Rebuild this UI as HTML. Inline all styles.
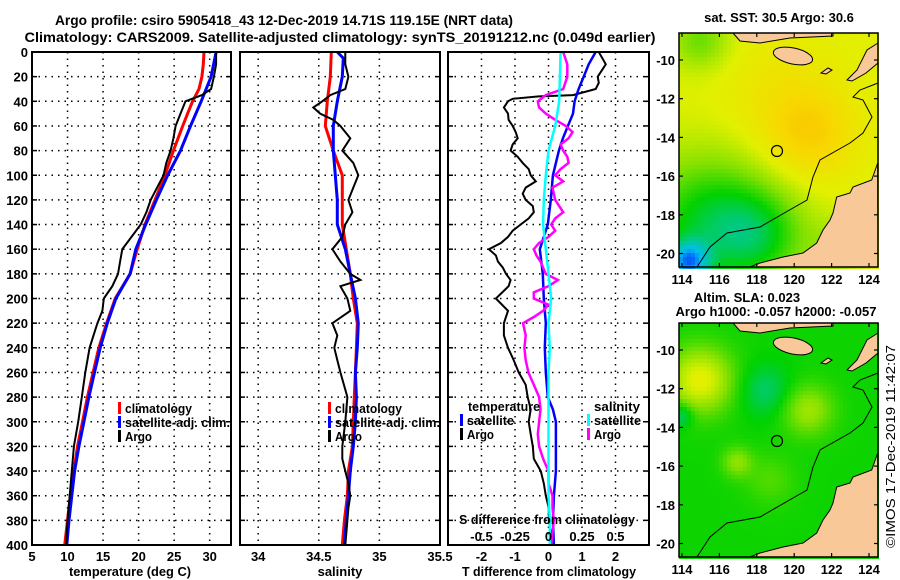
<!DOCTYPE html>
<html><head><meta charset="utf-8">
<style>
html,body{margin:0;padding:0;background:#fff;}
svg{display:block;font-family:"Liberation Sans",Arial,sans-serif;font-weight:bold;}
</style></head>
<body>
<svg id="fig" width="900" height="580" viewBox="0 0 900 580" xmlns="http://www.w3.org/2000/svg">
<text x="284" y="25" font-size="14" textLength="458" lengthAdjust="spacingAndGlyphs" text-anchor="middle">Argo profile: csiro 5905418_43 12-Dec-2019 14.71S 119.15E (NRT data)</text>
<text x="340" y="42" font-size="14" textLength="631" lengthAdjust="spacingAndGlyphs" text-anchor="middle">Climatology: CARS2009. Satellite-adjusted climatology: synTS_20191212.nc (0.049d earlier)</text>
<g id="panels"></g>
<g id="maps"></g>
<text transform="translate(895,548) rotate(-90)" font-size="13" font-weight="normal" textLength="203" lengthAdjust="spacingAndGlyphs">©IMOS 17-Dec-2019 11:42:07</text>
</svg>
<script>
// ---------- DATA ----------
const tClimDepth=[0,10,20,30,40,50,60,80,100,120,140,160,180,200,220,240,260,280,300,320,340,360,380,400];
const tClimVal=[29.2,29.1,28.9,28.5,27.6,26.9,26.2,24.9,23.7,22.3,20.9,19.8,18.8,16.7,15.5,14.4,13.6,12.8,12.1,11.4,10.9,10.4,10.0,9.6];
const tSatDepth=[0,20,40,60,80,100,120,140,160,180,200,220,240,260,280,300,320,340,360,380,400];
const tSatVal=[30.9,30.2,28.8,27.3,25.9,24.1,22.5,21.0,19.6,18.8,16.8,15.6,14.6,13.8,13.0,12.3,11.6,11.0,10.6,10.2,9.9];
const tArgoDepth=[0,10,20,30,35,40,50,60,70,80,90,100,110,120,130,140,150,160,170,180,190,200,210,220,240,260,280,300,320,340,360,380,400];
const tArgoVal=[30.9,30.9,30.6,30.2,28.9,26.6,25.9,25.2,24.9,24.5,23.9,23.5,22.6,21.7,21.1,20.3,19.0,17.7,17.4,17.1,16.3,15.1,14.9,14.2,13.1,12.5,12.0,11.5,10.9,10.6,10.3,10.0,9.8];
const sClimDepth=[0,20,40,60,80,100,120,140,160,180,200,220,240,260,280,300,320,340,360,380,400];
const sClimVal=[34.603,34.595,34.570,34.554,34.620,34.694,34.694,34.694,34.727,34.760,34.785,34.818,34.810,34.802,34.793,34.785,34.777,34.744,34.736,34.711,34.694];
const sSatDepth=[0,5,20,40,60,80,100,120,140,160,180,200,220,240,260,280,300,320,340,360,380,400];
const sSatVal=[34.653,34.702,34.694,34.653,34.620,34.620,34.636,34.653,34.653,34.719,34.760,34.802,34.826,34.818,34.802,34.810,34.802,34.785,34.760,34.744,34.727,34.711];
const sArgoDepth=[0,10,20,30,35,40,45,50,55,60,70,80,90,100,110,120,130,140,150,160,170,180,185,190,200,210,220,230,240,250,260,280,300,320,330,340,350,360,370,380,400];
const sArgoVal=[34.719,34.719,34.744,34.719,34.595,34.529,34.455,34.512,34.620,34.678,34.760,34.694,34.785,34.826,34.785,34.744,34.777,34.719,34.694,34.612,34.678,34.760,34.843,34.678,34.736,34.760,34.612,34.653,34.628,34.653,34.678,34.736,34.719,34.694,34.694,34.719,34.744,34.760,34.744,34.736,34.719];
const dTSatDepth=[0,10,20,30,40,50,60,70,80,90,100,120,140,150,160,180,200,220,240,260,280,290,300,320,340,360,380,400];
const dTSatVal=[1.41,1.20,1.05,0.90,0.78,0.73,0.58,0.43,0.31,0.22,0.13,0.07,-0.02,-0.14,-0.26,-0.17,-0.14,-0.08,-0.11,-0.08,-0.02,0.13,0.22,0.22,0.22,0.16,0.13,0.16];
const dTArgoDepth=[0,10,20,25,30,35,36,38,40,45,50,55,60,65,70,75,80,85,90,95,100,105,110,115,120,125,130,135,140,145,150,155,160,165,170,175,180,185,190,200,210,220,230,240,250,260,270,280,290,300,310,320,330,340,350,360,370,380,390,400];
const dTArgoVal=[1.50,1.71,1.47,1.50,1.41,0.73,-0.29,-1.07,-1.21,-1.33,-1.21,-1.19,-1.07,-0.98,-0.92,-1.07,-1.13,-0.92,-0.77,-0.59,-0.53,-0.38,-0.68,-0.77,-0.68,-0.47,-0.44,-0.59,-0.83,-1.07,-1.21,-1.42,-1.78,-1.57,-1.51,-1.36,-1.27,-1.13,-1.19,-1.57,-1.21,-1.33,-1.33,-1.21,-1.04,-0.89,-0.68,-0.62,-0.53,-0.59,-0.53,-0.47,-0.44,-0.23,-0.14,-0.08,0.01,0.01,0.07,0.07];
const dSSatDepth=[0,20,40,60,80,100,120,140,160,180,200,220,240,260,280,300,320,340,360,380,400];
const dSSatVal=[0.09,0.085,0.08,0.05,0.0,-0.02,-0.035,-0.04,-0.02,0.0,0.02,0.0,0.01,0.0,0.0,0.0,0.0,0.0,0.0,0.01,0.01];
const dSArgoDepth=[0,10,20,30,35,40,45,50,55,60,65,70,75,80,85,90,95,100,105,110,120,125,130,135,140,145,150,155,160,165,170,175,180,185,190,195,200,205,210,215,220,230,240,250,260,270,280,290,300,310,320,330,340,350,360,370,380,390,400];
const dSArgoVal=[0.11,0.14,0.14,0.11,-0.02,-0.08,-0.07,-0.02,0.05,0.13,0.18,0.15,0.09,0.11,0.14,0.15,0.09,0.05,0.11,0.03,0.05,0.08,0.11,0.05,0.02,0.05,0.0,-0.07,-0.11,-0.09,-0.06,-0.04,-0.02,0.07,0.0,-0.11,-0.11,0.0,-0.04,-0.11,-0.19,-0.17,-0.18,-0.17,-0.15,-0.11,-0.07,-0.06,-0.07,-0.08,-0.07,-0.04,0.0,0.0,0.03,0.03,0.04,0.03,0.02];
const depthTicks=[0,20,40,60,80,100,120,140,160,180,200,220,240,260,280,300,320,340,360,380,400];
const tempTicks=[5,10,15,20,25,30];
const salTicks=[34,34.5,35,35.5];
const salTickLabels=["34","34.5","35","35.5"];
const dTTicks=[-2,-1,0,1,2];
const dSTicks=[-0.5,-0.25,0,0.25,0.5];
const dSTickLabels=["-0.5","-0.25","0","0.25","0.5"];
const lonTicks=[114,116,118,120,122,124];
const latTicks=[-10,-12,-14,-16,-18,-20];
const sstText="sat. SST: 30.5 Argo: 30.6";

// ---------- HELPERS ----------
const NS="http://www.w3.org/2000/svg";
function mk(tag,attrs,parent){const e=document.createElementNS(NS,tag);for(const k in attrs)e.setAttribute(k,attrs[k]);parent.appendChild(e);return e;}
function txt(s,x,y,anchor,size,parent,name,tl){const t=mk('text',{x:x,y:y,'text-anchor':anchor,'font-size':size},parent);t.textContent=s;
if(tl){t.setAttribute('textLength',tl);t.setAttribute('lengthAdjust','spacingAndGlyphs');}


return t;}
const Y0=52,Y1=545;
const yD=d=>Y0+(d/400)*(Y1-Y0);
function panel(x0,x1,vmin,vmax,name){
  const g=mk('g',{},document.getElementById('panels'));
  
  
  const xs=v=>x0+(v-vmin)/(vmax-vmin)*(x1-x0);
  return {g,xs,x0,x1};
}
function grid(p,xticks){
  depthTicks.forEach(d=>{const y=yD(d);
    if(d>0&&d<400){const l=mk('line',{x1:p.x0,x2:p.x1,y1:y,y2:y,stroke:'#000','stroke-width':1.5,'stroke-dasharray':'1.5 5'},p.g);
    
    }
    mk('line',{x1:p.x0,x2:p.x0+5,y1:y,y2:y,stroke:'#000','stroke-width':1.5},p.g);
    mk('line',{x1:p.x1-5,x2:p.x1,y1:y,y2:y,stroke:'#000','stroke-width':1.5},p.g);
  });
  xticks.forEach(v=>{const x=p.xs(v);
    const l=mk('line',{x1:x,x2:x,y1:Y0,y2:Y1,stroke:'#000','stroke-width':1.5,'stroke-dasharray':'1.5 5'},p.g);
    
    
  });
}
function frame(p){const r=mk('rect',{x:p.x0,y:Y0,width:p.x1-p.x0,height:Y1-Y0,fill:'none',stroke:'#000','stroke-width':2},p.g);

}
function line(p,depths,vals,color,w,name){
  const d=depths.map((dd,i)=>(i?'L':'M')+p.xs(vals[i]).toFixed(1)+' '+yD(dd).toFixed(1)).join(' ');
  const e=mk('path',{d:d,fill:'none',stroke:color,'stroke-width':w,'stroke-linejoin':'miter'},p.g);
  
  
}
function legendItem(p,x,y,color,label,name,tl){
  const b=mk('rect',{x:x,y:y-11,width:3,height:12,fill:color},p.g);
  
  
  txt(label,x+7,y,'start',13,p.g,name+'-label',tl);
}

// ---------- PANEL 1 ----------
const p1=panel(32,231,5,33,'temperature-panel');
grid(p1,tempTicks.filter(v=>v>5));
line(p1,tClimDepth,tClimVal,'#ff0000',3,'temperature-climatology-line');
line(p1,tSatDepth,tSatVal,'#0000ff',3,'temperature-satellite-line');
line(p1,tArgoDepth,tArgoVal,'#000',2,'temperature-argo-line');
frame(p1);
depthTicks.forEach(d=>txt(String(d),28,yD(d)+5,'end',13,p1.g,'depth-tick-label'));
tempTicks.forEach(v=>txt(String(v),p1.xs(v),561,'middle',13,p1.g,'temperature-tick-label'));
txt('temperature (deg C)',130,576,'middle',13,p1.g,'temperature-axis-title',122);
legendItem(p1,118,413,'#ff0000','climatology','legend-climatology',67);
legendItem(p1,118,427,'#0000ff','satellite-adj. clim.','legend-satellite',105);
legendItem(p1,118,441,'#000','Argo','legend-argo',27);

// ---------- PANEL 2 ----------
const p2=panel(240,440,33.85,35.5,'salinity-panel');
grid(p2,salTicks.filter(v=>v<35.5));
line(p2,sClimDepth,sClimVal,'#ff0000',3,'salinity-climatology-line');
line(p2,sSatDepth,sSatVal,'#0000ff',3,'salinity-satellite-line');
line(p2,sArgoDepth,sArgoVal,'#000',2,'salinity-argo-line');
frame(p2);
salTicks.forEach((v,i)=>txt(salTickLabels[i],p2.xs(v),561,'middle',13,p2.g,'salinity-tick-label'));
txt('salinity',340,576,'middle',13,p2.g,'salinity-axis-title');
legendItem(p2,328,413,'#ff0000','climatology','legend-climatology',67);
legendItem(p2,328,427,'#0000ff','satellite-adj. clim.','legend-satellite',105);
legendItem(p2,328,441,'#000','Argo','legend-argo',27);

// ---------- PANEL 3 ----------
const p3=panel(448,649,-3,3,'difference-panel');
const xsS=v=>p3.xs(v*4);
grid(p3,dTTicks);
line(p3,dTArgoDepth,dTArgoVal,'#000',2,'temp-diff-argo-line');
line(p3,dTSatDepth,dTSatVal,'#0000ff',2.5,'temp-diff-satellite-line');
const sp={g:p3.g,xs:xsS};
line(sp,dSArgoDepth,dSArgoVal,'#ff00ff',2.5,'sal-diff-argo-line');
line(sp,dSSatDepth,dSSatVal,'#00ffff',2.5,'sal-diff-satellite-line');
frame(p3);
dTTicks.forEach(v=>txt(String(v),p3.xs(v),561,'middle',13,p3.g,'temp-diff-tick-label'));
dSTicks.forEach((v,i)=>txt(dSTickLabels[i],xsS(v),541,'middle',13,p3.g,'sal-diff-tick-label'));
txt('S difference from climatology',547,524,'middle',13,p3.g,'sal-diff-axis-title',176);
txt('T difference from climatology',549,576,'middle',13,p3.g,'temp-diff-axis-title',174);
txt('temperature',468,411,'start',13,p3.g,'legend-temperature-heading',72);
legendItem(p3,460,425,'#0000ff','satellite','legend-temp-satellite',47);
legendItem(p3,460,439,'#000','Argo','legend-temp-argo',27);
txt('salinity',594,411,'start',13,p3.g,'legend-salinity-heading',46);
legendItem(p3,587,425,'#00ffff','satellite','legend-sal-satellite',47);
legendItem(p3,587,439,'#ff00ff','Argo','legend-sal-argo',27);

// ---------- MAPS ----------
const MX0=679,MX1=878;
const lonX=lon=>682+(lon-114)*18.7;
const cmap=[[0.1,[0,64,255]],[0.2,[0,190,240]],[0.3,[0,200,150]],[0.4,[0,210,0]],[0.5,[130,225,0]],[0.6,[225,240,0]],[0.7,[248,215,0]],[0.8,[248,180,0]]];
function col(v){if(v<=cmap[0][0])return cmap[0][1];for(let i=1;i<cmap.length;i++){if(v<=cmap[i][0]){const a=cmap[i-1],b=cmap[i],t=(v-a[0])/(b[0]-a[0]);return a[1].map((c,j)=>Math.round(c+(b[1][j]-c)*t));}}return cmap[cmap.length-1][1];}
function gs(x,y,cx,cy,r){return Math.exp(-((x-cx)**2+(y-cy)**2)/(r*r));}
function field1(x,y){let v=0.6;v+=0.11*gs(x,y,810,135,45);v+=0.05*gs(x,y,780,95,60);
  v-=0.22*gs(x,y,710,225,70);v-=0.13*gs(x,y,760,235,45);v-=0.32*gs(x,y,688,262,20);v-=0.12*gs(x,y,700,40,30);v-=0.08*gs(x,y,840,250,30);return v;}
function field2(x,y){let v=0.41;v+=0.2*gs(x,y,700,90,32);v+=0.12*gs(x,y,808,120,25);v+=0.1*gs(x,y,737,172,15);v+=0.05*gs(x,y,770,190,25);
  v-=0.08*gs(x,y,765,100,25);v-=0.1*gs(x,y,681,125,12);return v;}
function drawMap(top,name,field){
  const g=mk('g',{},document.getElementById('maps'));
  
  
  const H=234,cell=4;
  for(let y=0;y<H;y+=cell){for(let x=MX0;x<MX1;x+=cell){const c=col(field(x+2,y+35));
    mk('rect',{x:x,y:top+y,width:cell,height:cell,fill:'rgb('+c.join(',')+')'},g);}}
  const o=top-33;
  const land='#f8c898';
  const L=[[877.7,163],[871.7,180],[853,187],[850,193],[836.7,197],[833,213],[830,220],[823,230],[816.7,243],[803,253],[783,257],[760,263],[750,267],[878,267]];
  const l1=mk('polygon',{points:L.map(p=>p[0]+','+(p[1]+o)).join(' '),fill:land,stroke:'#000','stroke-width':1},g);
  
  
  const L2=[[878,43],[867,50],[857,70],[847,80],[852,81],[866,73],[878,63]];
  mk('polygon',{points:L2.map(p=>p[0]+','+(p[1]+o)).join(' '),fill:land,stroke:'#000','stroke-width':1},g);
  mk('ellipse',{cx:793,cy:56+o,rx:20,ry:8,fill:land,stroke:'#000','stroke-width':1,transform:'rotate(12 793 '+(56+o)+')'},g);
  mk('path',{d:'M733 33 L740 41 L760 43 L790 38 L833 36 L833 33 Z',fill:land,stroke:'#000','stroke-width':1,transform:'translate(0,'+o+')'},g);
  mk('path',{d:'M821 73 L828 68 L832 70 L826 74 Z',fill:land,stroke:'#000','stroke-width':1,transform:'translate(0,'+o+')'},g);
  const C=[[697,267],[710,247],[727,233],[760,227],[793,208],[807,200],[813,177],[820,160],[850,143],[863,133],[872,117],[863,100],[853,97],[860,90],[878,83]];
  const c=mk('polyline',{points:C.map(p=>p[0]+','+(p[1]+o)).join(' '),fill:'none',stroke:'#000','stroke-width':1},g);
  
  
  const m=mk('circle',{cx:777,cy:151+o,r:5.5,fill:'none',stroke:'#000','stroke-width':1.2},g);
  
  
  mk('rect',{x:MX0,y:top,width:MX1-MX0,height:H,fill:'none',stroke:'#000','stroke-width':1.5},g);
  lonTicks.forEach(lon=>{const x=lonX(lon);
    mk('line',{x1:x,x2:x,y1:top,y2:top+4,stroke:'#000','stroke-width':1.2},g);
    mk('line',{x1:x,x2:x,y1:top+H-4,y2:top+H,stroke:'#000','stroke-width':1.2},g);
    txt(String(lon),x,top+H+17,'middle',13,g,'longitude-tick-label');});
  latTicks.forEach(lat=>{const y=top+27+(-10-lat)*19.35;
    mk('line',{x1:MX0,x2:MX0+4,y1:y,y2:y,stroke:'#000','stroke-width':1.2},g);
    mk('line',{x1:MX1-4,x2:MX1,y1:y,y2:y,stroke:'#000','stroke-width':1.2},g);
    txt(String(lat),675,y+5,'end',13,g,'latitude-tick-label');});
  return g;
}
const m1=drawMap(33,'sst-map',field1);
txt(sstText,779,22,'middle',13,m1,'sst-map-title');
const m2=drawMap(323,'sla-map',field2);
txt('Altim. SLA: 0.023',747,302,'middle',13,m2,'sla-map-title');
txt('Argo h1000: -0.057 h2000: -0.057',776,316,'middle',13,m2,'sla-map-subtitle');
</script>
</body></html>
